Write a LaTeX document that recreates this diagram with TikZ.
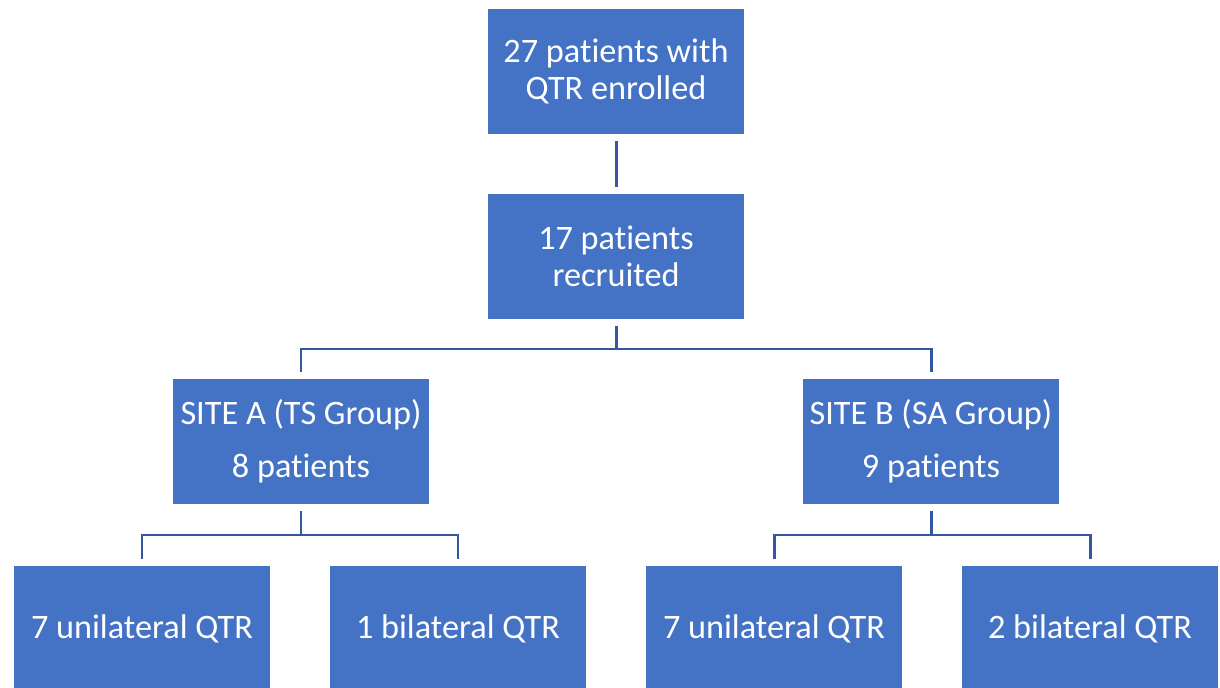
\documentclass[tikz,border=0pt]{standalone}
\usepackage{fontspec}
\setmainfont{Carlito}[Ligatures=NoCommon]
\usetikzlibrary{calc}
\definecolor{boxblue}{RGB}{68, 114, 196}
\definecolor{linkblue}{RGB}{52, 88, 160}

\tikzset{
    stage/.style={rectangle, fill=boxblue, draw=white, line width=0.6pt,
        minimum width=5.16cm, minimum height=2.54cm, inner sep=0pt,
        text=white, align=center, font=\fontsize{19.5}{21}\selectfont},
    link/.style={draw=linkblue, line width=1.7pt, shorten <=0.1cm, shorten >=0.1cm}
}

\begin{document}
\begin{tikzpicture}[x=0.02cm, y=-0.02cm]
    \useasboundingbox (0,0) rectangle (1220,688);

    % Top of the chart
    \node[stage] (enrolled) at (616,71.5) {27 patients with\\QTR enrolled};
    \node[stage] (recruited) at (616,256.5) {17 patients\\recruited};

    % Sites
    \node[stage] (siteA) at (301,441.5) {SITE A (TS Group)\\[9pt]8 patients};
    \node[stage] (siteB) at (931,441.5) {SITE B (SA Group)\\[9pt]9 patients};

    % Patient types
    \node[stage] (uniA) at (142,628.5) {7 unilateral QTR};
    \node[stage] (biA) at (458,628.5) {1 bilateral QTR};
    \node[stage] (uniB) at (774,628.5) {7 unilateral QTR};
    \node[stage] (biB) at (1090,628.5) {2 bilateral QTR};

    % Branch points
    \coordinate (splitSites) at (616,349);
    \coordinate (splitA) at (301,535);
    \coordinate (splitB) at (931,535);

    % Connectors
    \draw[link] (enrolled) -- (recruited);
    \draw[link, shorten >=0pt] (recruited.south) -- (splitSites);
    \draw[link] (siteA.north) |- (splitSites) -| (siteB.north);
    \draw[link, shorten >=0pt] (siteA.south) -- (splitA);
    \draw[link] (uniA.north) |- (splitA) -| (biA.north);
    \draw[link, shorten >=0pt] (siteB.south) -- (splitB);
    \draw[link] (uniB.north) |- (splitB) -| (biB.north);
\end{tikzpicture}
\end{document}
